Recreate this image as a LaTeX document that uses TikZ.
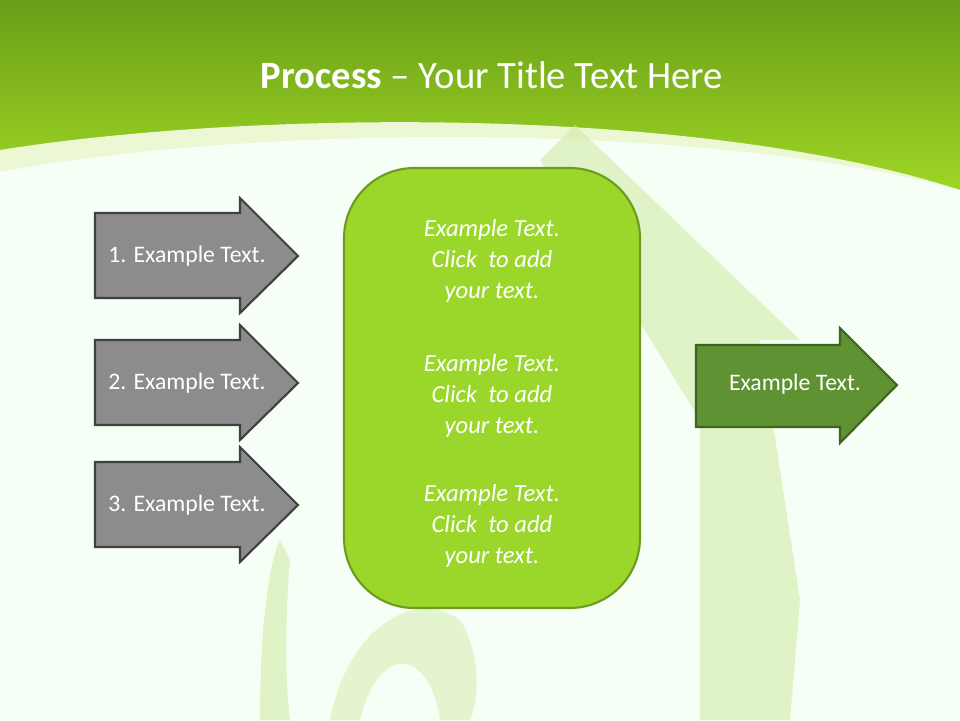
\documentclass[tikz,border=0pt]{standalone}
\usepackage{fontspec}
\setmainfont{Carlito}
\definecolor{bandtop}{HTML}{6A9E18}
\definecolor{bandbot}{HTML}{9ED624}
\definecolor{boxfill}{HTML}{9BD72A}
\definecolor{boxline}{HTML}{6E9A22}
\definecolor{rfill}{HTML}{5F9233}
\definecolor{rline}{HTML}{3C6620}
\definecolor{gfill}{HTML}{8C8C8C}
\definecolor{gline}{HTML}{404040}
\definecolor{deco}{HTML}{D2EBA8}
\begin{document}
\begin{tikzpicture}[x=0.02cm,y=-0.02cm,
 garrow/.style={fill=gfill,draw=gline,line width=1.2pt},
 atext/.style={text=white,font=\fontsize{13.5}{15}\selectfont},
 btext/.style={text=white,font=\itshape\fontsize{14}{17.5}\selectfont,align=center}]
\useasboundingbox (0,0) rectangle (960,720);
% top band
\fill[top color=bandtop,bottom color=bandbot] (0,0) rectangle (960,190);
\fill[white!80!bandbot] (0,150) .. controls (250,110) and (700,105) .. (960,190) -- (960,720) -- (0,720) -- cycle;
\fill[white!96!green] (0,172) .. controls (250,125) and (700,120) .. (960,190) -- (960,720) -- (0,720) -- cycle;
% decorative faint shapes
\fill[deco,opacity=0.6] (575,125) -- (800,340) -- (760,340) -- (800,600) -- (790,720) -- (700,720) -- (700,420) -- (540,160) -- cycle;
\fill[deco,opacity=0.6] (260,720) .. controls (260,620) and (270,560) .. (280,540) -- (290,560) .. controls (285,620) and (285,680) .. (290,720) -- cycle;
\fill[deco,opacity=0.5] (330,720) .. controls (350,620) and (420,590) .. (460,620) .. controls (480,650) and (480,700) .. (470,720) -- (440,720) .. controls (430,650) and (380,640) .. (360,720) -- cycle;
\node[text=white,font=\fontsize{22}{26}\selectfont] (title) at (492,75) {\textbf{Process} – Your Title Text Here};
% gray arrows
\foreach \i/\c in {1/256,2/383,3/505}{
 \draw[garrow] (95,\c-43) -- (240,\c-43) -- (240,\c-58) -- (298,\c) -- (240,\c+57) -- (240,\c+42) -- (95,\c+42) -- cycle;
 \node[atext] (a\i) at (187,\c) {\i. Example Text.};
}
% green box
\draw[fill=boxfill,draw=boxline,line width=1.2pt,rounded corners=40] (344,168) rectangle (640,608);
\node[btext] (t1) at (492,261) {Example Text.\\Click\ \ to add\\your text.};
\node[btext] (t2) at (492,396) {Example Text.\\Click\ \ to add\\your text.};
\node[btext] (t3) at (492,526) {Example Text.\\Click\ \ to add\\your text.};
% right arrow
\draw[fill=rfill,draw=rline,line width=1.2pt]
 (696,345) -- (840,345) -- (840,328) -- (897,385) -- (840,443) -- (840,427) -- (696,427) -- cycle;
\node[atext] (out) at (795,384) {Example Text.};
\end{tikzpicture}
\end{document}
